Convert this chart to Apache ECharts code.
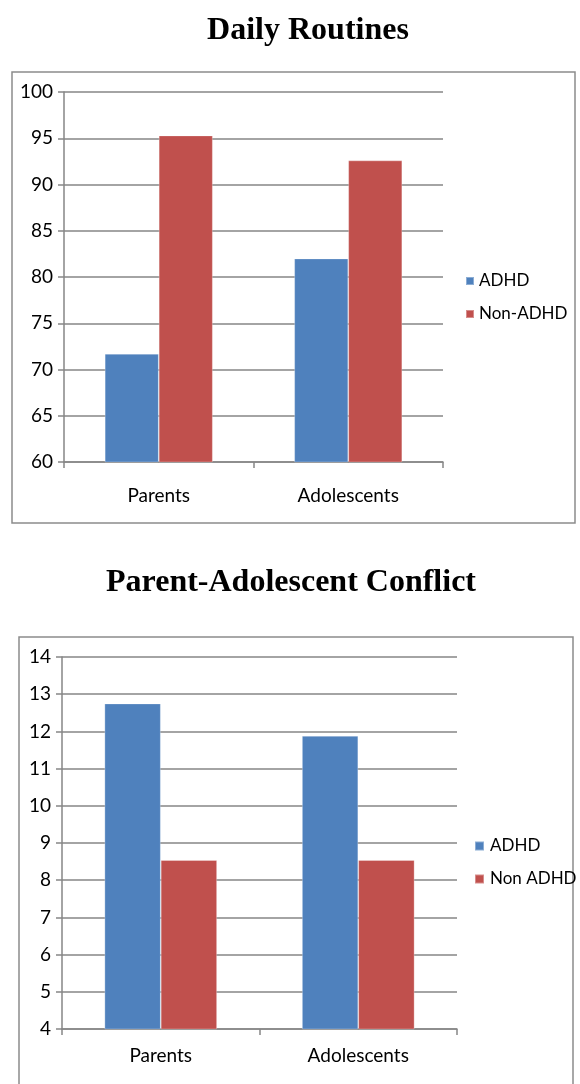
<!DOCTYPE html>
<html>
<head>
<meta charset="utf-8">
<script src="https://cdn.jsdelivr.net/npm/echarts@6/dist/echarts.min.js"></script>
<style>
html,body{margin:0;padding:0;background:#fff;}
#main{width:580px;height:1084px;}
</style>
</head>
<body>
<div id="main"></div>
<script>
const categories = ['Parents', 'Adolescents'];
const routinesTitle = 'Daily Routines';
const conflictTitle = 'Parent-Adolescent Conflict';
const routinesNames = ['ADHD', 'Non-ADHD'];
const conflictNames = ['ADHD', 'Non ADHD'];
const routinesADHD = [71.7, 82.0];
const routinesNonADHD = [95.3, 92.6];
const conflictADHD = [12.75, 11.88];
const conflictNonADHD = [8.54, 8.54];
const routinesTicks = {min: 60, max: 100, interval: 5};
const conflictTicks = {min: 4, max: 14, interval: 1};

const BLUE = '#4F81BD', RED = '#C0504D', GRID = '#868686';
const FONT = 'Lato';

function yAxis(gi, t) {
  return {
    type: 'value', gridIndex: gi, min: t.min, max: t.max, interval: t.interval,
    axisLine: {show: true, lineStyle: {color: GRID, width: 1.5}},
    axisTick: {show: true, length: 6, lineStyle: {color: GRID, width: 1.5}},
    splitLine: {show: true, lineStyle: {color: GRID, width: 1.5}},
    axisLabel: {fontFamily: FONT, fontSize: 19, color: '#000', margin: 11}
  };
}
function xAxis(gi, m) {
  return {
    type: 'category', gridIndex: gi, data: categories,
    axisLine: {show: true, lineStyle: {color: GRID, width: 1.5}},
    axisTick: {show: true, length: 6, lineStyle: {color: GRID, width: 1.5}},
    axisLabel: {fontFamily: FONT, fontSize: 19, color: '#000', margin: m}
  };
}
function bar(name, data, color, idx) {
  return {
    type: 'bar', name: name, data: data, xAxisIndex: idx, yAxisIndex: idx,
    barWidth: '28.5%', barGap: '0%',
    itemStyle: {color: color, borderColor: 'rgba(255,255,255,0.35)', borderWidth: 0.8},
    emphasis: {disabled: true}
  };
}

const chart = echarts.init(document.getElementById('main'), null, {renderer: 'canvas'});
chart.setOption({
  animation: false,
  backgroundColor: '#fff',
  title: [
    {text: routinesTitle, left: 308, top: 15, textAlign: 'center', padding: 0,
     textStyle: {fontFamily: 'Liberation Serif', fontWeight: 'bold', fontSize: 32, color: '#000'}},
    {text: conflictTitle, left: 291, top: 567, textAlign: 'center', padding: 0,
     textStyle: {fontFamily: 'Liberation Serif', fontWeight: 'bold', fontSize: 32, color: '#000'}}
  ],
  graphic: [
    {type: 'rect', shape: {x: 12, y: 72, width: 563, height: 451},
     style: {fill: 'none', stroke: '#8c8c8c', lineWidth: 1.5}, z: -1},
    {type: 'rect', shape: {x: 19, y: 637, width: 554, height: 470},
     style: {fill: 'none', stroke: '#8c8c8c', lineWidth: 1.5}, z: -1}
  ],
  grid: [
    {left: 64, right: 137, top: 92, bottom: 622},
    {left: 62, right: 123, top: 657, bottom: 55}
  ],
  legend: [
    {data: routinesNames, orient: 'vertical', left: 465, top: 272, padding: 0,
     icon: 'rect', itemWidth: 8, itemHeight: 8, itemGap: 15, selectedMode: false,
     textStyle: {fontFamily: FONT, fontSize: 17, lineHeight: 18, color: '#000', padding: [0, 0, 0, 0]}},
    {data: conflictNames, orient: 'vertical', left: 474, top: 837, padding: 0,
     icon: 'rect', itemWidth: 9, itemHeight: 9, itemGap: 15, selectedMode: false,
     textStyle: {fontFamily: FONT, fontSize: 17, lineHeight: 18, color: '#000', padding: [0, 0, 0, 1]}}
  ],
  xAxis: [xAxis(0, 24), xAxis(1, 17)],
  yAxis: [yAxis(0, routinesTicks), yAxis(1, conflictTicks)],
  series: [
    bar(routinesNames[0], routinesADHD, BLUE, 0),
    bar(routinesNames[1], routinesNonADHD, RED, 0),
    bar(conflictNames[0], conflictADHD, BLUE, 1),
    bar(conflictNames[1], conflictNonADHD, RED, 1)
  ]
});
</script>
</body>
</html>
